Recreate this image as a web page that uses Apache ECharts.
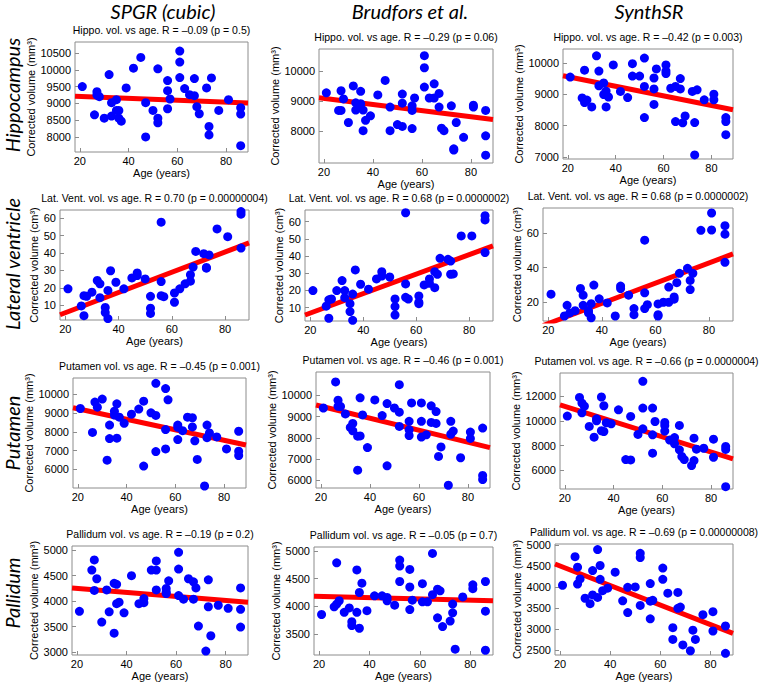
<!DOCTYPE html>
<html>
<head>
<meta charset="utf-8">
<script src="https://cdn.jsdelivr.net/npm/echarts@6.0.0/dist/echarts.min.js"></script>
<style>
  html, body { margin: 0; padding: 0; background: #fff; }
  #chart { width: 760px; height: 682px; }
</style>
</head>
<body>
<div id="chart"></div>
<script>
// shared x axis (age)
const ageRange = [18, 89];
const ageTicks = [20, 40, 60, 80];

// [age, corrected volume]
const hippoSpgr = [[21,9500],[26,8660],[27,9350],[27,9250],[28,9200],[30,8560],[32,9860],[33,9020],[33,8620],[35,9110],[35,8790],[36,8790],[36,8560],[37,8470],[39,9460],[42,10050],[45,10370],[47,9020],[47,8000],[50,8790],[52,10030],[52,8560],[52,8420],[56,9680],[56,9380],[56,8840],[57,9130],[61,10560],[61,10230],[61,9770],[63,9440],[65,9260],[67,9740],[67,9230],[68,8900],[69,8690],[72,9460],[73,8310],[73,8060],[74,9760],[77,8790],[81,9110],[86,8870],[86,8680],[86,7740]];
const hippoBrud = [[21,9270],[26,8690],[27,9340],[27,8690],[28,9070],[30,8290],[32,9500],[33,8940],[33,8700],[35,9320],[35,8910],[36,8700],[36,8020],[37,8360],[39,8510],[42,9200],[45,9680],[47,8800],[47,8020],[50,8220],[52,9230],[52,8930],[52,8160],[56,8840],[56,8690],[56,8090],[57,9100],[61,10500],[61,10100],[61,9460],[63,9100],[65,9570],[65,9100],[67,9250],[67,8800],[68,8100],[69,8020],[72,8840],[73,7420],[73,7380],[74,8290],[77,7800],[81,8860],[81,8800],[86,8690],[86,7850],[86,7210]];
const hippoSynth = [[21,9560],[26,8890],[27,8740],[27,9780],[28,8820],[30,8600],[32,10240],[33,9280],[33,9750],[35,9370],[35,9000],[36,9110],[36,8600],[37,8920],[39,9950],[42,9100],[45,8900],[47,9990],[47,9590],[50,9590],[52,10170],[52,9260],[52,8260],[56,9530],[56,9180],[56,8680],[57,9820],[61,9950],[61,9750],[61,9670],[63,9200],[65,9260],[65,8130],[67,9510],[67,9180],[68,8090],[69,8310],[72,9100],[73,8100],[73,7060],[74,9150],[77,8830],[81,9010],[81,8830],[86,8260],[86,8130],[86,7710]];
const latVentSpgr = [[21,19.4],[26,9.6],[27,15.5],[27,4.0],[28,15.1],[30,17.5],[32,24.2],[33,22.3],[33,14.3],[35,8.7],[35,5.8],[36,18.5],[36,2.3],[37,29.8],[39,23.2],[42,19.4],[45,25.7],[47,28.5],[47,27.0],[50,25.1],[52,15.1],[52,8.3],[52,5.3],[56,57.7],[56,23.6],[56,15.5],[57,14.9],[61,17.0],[61,11.7],[63,19.4],[65,22.3],[67,27.5],[67,23.8],[68,31.9],[69,40.9],[72,39.6],[73,31.3],[73,31.7],[74,38.9],[77,53.8],[81,49.4],[86,63.8],[86,62.3],[86,42.8]];
const latVentBrud = [[21,19.9],[26,10.8],[27,14.5],[27,3.8],[28,15.0],[30,19.9],[32,25.7],[33,19.9],[33,15.8],[35,12.3],[35,7.7],[36,17.9],[36,2.6],[37,31.9],[39,23.6],[42,20.7],[45,26.7],[47,30.9],[47,28.4],[50,27.8],[52,15.0],[52,10.6],[52,5.7],[56,65.2],[56,23.8],[56,16.0],[57,15.0],[61,16.8],[61,13.1],[61,12.3],[63,23.2],[65,26.7],[65,24.1],[67,30.9],[67,21.6],[68,29.4],[69,38.7],[72,38.1],[73,37.1],[73,29.4],[74,29.6],[77,51.7],[81,51.7],[86,63.5],[86,61.0],[86,42.0]];
const latVentSynth = [[21,24.5],[26,11.8],[27,18.0],[27,8.1],[28,13.6],[30,14.9],[32,27.8],[33,23.9],[33,18.0],[35,14.9],[35,13.6],[36,19.0],[36,10.8],[37,29.8],[39,21.8],[42,19.4],[45,11.8],[47,29.2],[47,27.8],[50,23.9],[52,16.1],[52,12.6],[56,55.9],[56,25.3],[56,16.1],[57,18.4],[61,18.8],[61,12.6],[61,11.8],[63,19.8],[65,28.6],[65,19.8],[67,22.9],[67,21.6],[68,31.2],[69,36.6],[72,39.5],[73,32.5],[73,27.2],[74,36.6],[77,61.6],[81,71.7],[81,61.8],[86,64.3],[86,59.4],[86,43.0]];
const putamenSpgr = [[21,9240],[26,7970],[27,9580],[28,9310],[30,9740],[32,6490],[33,8360],[33,7640],[35,9100],[35,8890],[36,9490],[36,7660],[37,8780],[39,8450],[42,8940],[45,9210],[47,9630],[47,6180],[50,9010],[52,10580],[52,8870],[52,6950],[56,10300],[56,8120],[56,7090],[57,9700],[61,8360],[61,8240],[61,7590],[63,8060],[65,8780],[67,8750],[67,8260],[68,7520],[69,6530],[72,5120],[73,8360],[73,7690],[74,7940],[77,7730],[81,7090],[86,8030],[86,6970],[86,6740]];
const putamenBrud = [[21,9410],[26,10640],[27,9780],[27,9490],[28,9480],[30,9130],[32,8490],[33,8680],[33,8330],[35,8080],[35,6470],[36,9890],[36,8090],[37,9080],[39,7540],[42,9790],[45,9050],[47,9620],[47,6680],[50,9410],[52,10510],[52,9210],[52,8540],[56,8780],[56,8380],[56,8110],[57,9650],[61,9650],[61,8780],[61,8040],[63,8140],[65,9510],[65,8730],[67,9240],[67,8680],[68,7120],[69,7570],[72,5760],[73,8780],[73,8170],[74,8320],[77,7060],[81,8270],[81,7970],[86,8460],[86,6220],[86,6030]];
const putamenSynth = [[21,10400],[26,11920],[27,11460],[27,10670],[28,11210],[30,9560],[32,8690],[33,10180],[33,10020],[35,11950],[35,9210],[36,11240],[36,9150],[37,9860],[39,9770],[42,10910],[45,6870],[47,10370],[47,6840],[50,8910],[52,13220],[52,11050],[52,9370],[56,11050],[56,8880],[56,7390],[57,9960],[61,9880],[61,9640],[61,9180],[63,8450],[65,8660],[65,8150],[67,9640],[67,7660],[68,7120],[69,6870],[72,6380],[73,8610],[73,6790],[74,7710],[77,7790],[81,8530],[81,7060],[86,7930],[86,7690],[86,4670]];
const pallidumSpgr = [[21,3800],[26,4610],[27,4810],[27,4210],[28,4440],[30,3590],[32,4220],[33,3790],[35,4350],[35,3370],[36,4330],[36,3950],[37,3980],[39,3770],[42,4500],[45,3950],[47,4050],[47,3970],[50,4610],[52,4790],[52,4610],[52,4220],[56,4250],[56,4180],[56,4150],[57,4400],[61,4960],[61,4630],[61,4110],[63,4040],[65,4440],[67,4380],[67,4040],[68,4260],[69,3510],[72,3020],[73,4420],[73,3890],[74,3320],[77,3920],[81,3860],[86,4260],[86,3840],[86,3490]];
const pallidumBrud = [[21,3850],[26,3990],[27,4790],[27,4040],[28,4100],[30,3890],[32,3970],[33,3720],[33,3650],[35,4660],[35,3890],[36,4250],[36,3600],[37,4420],[39,3920],[42,4190],[45,4190],[47,4160],[47,4100],[50,4020],[52,4840],[52,4730],[52,4450],[56,4670],[56,4350],[56,3940],[57,4110],[61,4410],[61,4080],[63,4080],[65,4960],[65,4210],[67,4310],[67,3790],[68,4280],[69,3630],[72,3730],[73,4040],[73,3880],[74,3220],[77,4170],[81,4390],[81,4320],[86,4450],[86,3910],[86,3200]];
const pallidumSynth = [[21,4050],[26,4730],[27,4480],[27,4080],[28,4200],[30,3740],[32,3610],[33,4400],[33,3820],[35,4900],[35,3760],[36,4520],[36,4190],[37,3920],[39,3980],[42,4360],[45,3680],[47,4000],[47,3400],[50,4010],[52,4810],[52,4710],[52,3570],[56,4090],[56,3670],[56,3250],[57,3690],[61,4460],[61,4190],[63,3860],[65,3040],[65,2760],[67,3880],[67,3500],[68,3530],[69,2630],[72,2490],[73,2980],[74,2760],[77,3350],[81,3420],[81,2960],[86,3080],[86,2430]];

// regression line value at ageRange[0] and ageRange[1]
const hippoSpgrFit = [9210, 9010];
const hippoBrudFit = [9110, 8390];
const hippoSynthFit = [9600, 8510];
const latVentSpgrFit = [4.5, 45.8];
const latVentBrudFit = [5.7, 45.9];
const latVentSynthFit = [6.3, 47.9];
const putamenSpgrFit = [9280, 7300];
const putamenBrudFit = [9550, 7540];
const putamenSynthFit = [11320, 6930];
const pallidumSpgrFit = [4260, 3980];
const pallidumBrudFit = [4180, 4100];
const pallidumSynthFit = [4555, 2905];

// y axis extents and tick labels
const hippoSpgrRange = [7550, 10830];
const hippoBrudRange = [6950, 10720];
const hippoSynthRange = [6930, 10460];
const latVentSpgrRange = [1.5, 64.7];
const latVentBrudRange = [2.2, 66.8];
const latVentSynthRange = [8.9, 74.6];
const putamenSpgrRange = [5013, 10863];
const putamenBrudRange = [5630, 11110];
const putamenSynthRange = [4480, 13900];
const pallidumSpgrRange = [2942, 5084];
const pallidumBrudRange = [3114, 5077];
const pallidumSynthRange = [2389, 5032];

const hippoSpgrTicks = [8000, 8500, 9000, 9500, 10000, 10500];
const hippoBrudTicks = [8000, 9000, 10000];
const hippoSynthTicks = [7000, 8000, 9000, 10000];
const latVentTicks = [10, 20, 30, 40, 50, 60];
const latVentSynthTicks = [20, 40, 60];
const putamenTicks = [6000, 7000, 8000, 9000, 10000];
const putamenSynthTicks = [6000, 8000, 10000, 12000];
const pallidumSpgrTicks = [3000, 3500, 4000, 4500, 5000];
const pallidumBrudTicks = [3500, 4000, 4500, 5000];
const pallidumSynthTicks = [2500, 3000, 3500, 4000, 4500, 5000];

const columnNames = ['SPGR (cubic)', 'Brudfors et al.', 'SynthSR'];
const rowNames = ['Hippocampus', 'Lateral ventricle', 'Putamen', 'Pallidum'];

const FONT = 'Liberation Sans';
const HEAD_FONT = 'italic 20px Lato';

// box = [left, top, right, bottom] of each plot frame in px
const panels = [
  { pts: hippoSpgr, fit: hippoSpgrFit, yr: hippoSpgrRange, yt: hippoSpgrTicks, col: 0, unit: 'mm³',
    title: 'Hippo. vol. vs age. R = –0.09 (p = 0.5)', box: [75, 42, 248, 152] },
  { pts: hippoBrud, fit: hippoBrudFit, yr: hippoBrudRange, yt: hippoBrudTicks, col: 1, unit: 'mm³',
    title: 'Hippo. vol. vs age. R = –0.29 (p = 0.06)', box: [319, 49, 493, 163] },
  { pts: hippoSynth, fit: hippoSynthFit, yr: hippoSynthRange, yt: hippoSynthTicks, col: 2, unit: 'mm³',
    title: 'Hippo. vol. vs age. R = –0.42 (p = 0.003)', box: [563, 49, 733, 159] },
  { pts: latVentSpgr, fit: latVentSpgrFit, yr: latVentSpgrRange, yt: latVentTicks, col: 0, unit: 'cm³',
    title: 'Lat. Vent. vol. vs age. R = 0.70 (p = 0.00000004)', box: [60, 210, 249, 320] },
  { pts: latVentBrud, fit: latVentBrudFit, yr: latVentBrudRange, yt: latVentTicks, col: 1, unit: 'cm³',
    title: 'Lat. Vent. vol. vs age. R = 0.68 (p = 0.0000002)', box: [305, 210, 493, 321] },
  { pts: latVentSynth, fit: latVentSynthFit, yr: latVentSynthRange, yt: latVentSynthTicks, col: 2, unit: 'cm³',
    title: 'Lat. Vent. vol. vs age. R = 0.68 (p = 0.0000002)', box: [543, 208, 733, 321] },
  { pts: putamenSpgr, fit: putamenSpgrFit, yr: putamenSpgrRange, yt: putamenTicks, col: 0, unit: 'mm³',
    title: 'Putamen vol. vs age. R = –0.45 (p = 0.001)', box: [73, 378, 246, 488] },
  { pts: putamenBrud, fit: putamenBrudFit, yr: putamenBrudRange, yt: putamenTicks, col: 1, unit: 'mm³',
    title: 'Putamen vol. vs age. R = –0.46 (p = 0.001)', box: [316, 372, 490, 488] },
  { pts: putamenSynth, fit: putamenSynthFit, yr: putamenSynthRange, yt: putamenSynthTicks, col: 2, unit: 'mm³',
    title: 'Putamen vol. vs age. R = –0.66 (p = 0.0000004)', box: [560, 373, 733, 489] },
  { pts: pallidumSpgr, fit: pallidumSpgrFit, yr: pallidumSpgrRange, yt: pallidumSpgrTicks, col: 0, unit: 'mm³',
    title: 'Pallidum vol. vs age. R = –0.19 (p = 0.2)', box: [72, 546, 248, 657] },
  { pts: pallidumBrud, fit: pallidumBrudFit, yr: pallidumBrudRange, yt: pallidumBrudTicks, col: 1, unit: 'mm³',
    title: 'Pallidum vol. vs age. R = –0.05 (p = 0.7)', box: [314, 547, 493, 657] },
  { pts: pallidumSynth, fit: pallidumSynthFit, yr: pallidumSynthRange, yt: pallidumSynthTicks, col: 2, unit: 'mm³',
    title: 'Pallidum vol. vs age. R = –0.69 (p = 0.00000008)', box: [555, 544, 733, 655] }
];

// x position of the rotated y-axis name in each column
const yNameX = [37, 282, 523];
const colHeadX = [163, 410, 649];
const rowHeadY = [95, 264, 433, 593];

const plain = v => String(v);
const grid = [], xAxis = [], yAxis = [], series = [], graphic = [];

panels.forEach((p, i) => {
  const [l, t, r, b] = p.box;
  grid.push({ left: l, top: t, width: r - l, height: b - t, show: true,
    borderColor: '#8c8c8c', borderWidth: 1, backgroundColor: '#fff' });
  xAxis.push({
    gridIndex: i, type: 'value', min: ageRange[0], max: ageRange[1],
    name: 'Age (years)', nameLocation: 'middle', nameGap: 15,
    nameTextStyle: { fontFamily: FONT, fontSize: 11, color: '#000' },
    axisLine: { show: false },
    axisTick: { inside: true, length: 4, customValues: ageTicks, lineStyle: { color: '#8c8c8c' } },
    axisLabel: { customValues: ageTicks, formatter: plain, margin: 3, fontFamily: FONT, fontSize: 11, color: '#000' },
    splitLine: { show: false }
  });
  yAxis.push({
    gridIndex: i, type: 'value', min: p.yr[0], max: p.yr[1],
    name: 'Corrected volume (' + p.unit + ')', nameLocation: 'middle',
    nameGap: l - yNameX[p.col] - 6,
    nameTextStyle: { fontFamily: FONT, fontSize: 11, color: '#000' },
    axisLine: { show: false },
    axisTick: { inside: true, length: 4, customValues: p.yt, lineStyle: { color: '#8c8c8c' } },
    axisLabel: { customValues: p.yt, formatter: plain, margin: 4, fontFamily: FONT, fontSize: 11, color: '#000' },
    splitLine: { show: false }
  });
  series.push({
    type: 'line', xAxisIndex: i, yAxisIndex: i, z: 2,
    data: [[ageRange[0], p.fit[0]], [ageRange[1], p.fit[1]]],
    symbol: 'none', clip: true, silent: true,
    lineStyle: { color: '#ff0000', width: 5 }
  });
  series.push({
    type: 'scatter', xAxisIndex: i, yAxisIndex: i, z: 3,
    data: p.pts, symbolSize: 9, clip: true,
    itemStyle: { color: '#0000ff', opacity: 1 }
  });
  graphic.push({
    type: 'text', x: (l + r) / 2, y: t - 12,
    style: { text: p.title, align: 'center', verticalAlign: 'middle',
      font: '10.5px ' + FONT, fill: '#000' }
  });
});

columnNames.forEach((name, c) => {
  graphic.push({ type: 'text', x: colHeadX[c], y: 11,
    style: { text: name, align: 'center', verticalAlign: 'middle', font: HEAD_FONT, fill: '#000' } });
});
rowNames.forEach((name, r) => {
  graphic.push({ type: 'text', x: 12, y: rowHeadY[r], rotation: Math.PI / 2,
    style: { text: name, align: 'center', verticalAlign: 'middle', font: HEAD_FONT, fill: '#000' } });
});

const chart = echarts.init(document.getElementById('chart'), null, { renderer: 'svg' });
chart.setOption({
  animation: false,
  backgroundColor: '#fff',
  grid, xAxis, yAxis, series, graphic
});
</script>
</body>
</html>
